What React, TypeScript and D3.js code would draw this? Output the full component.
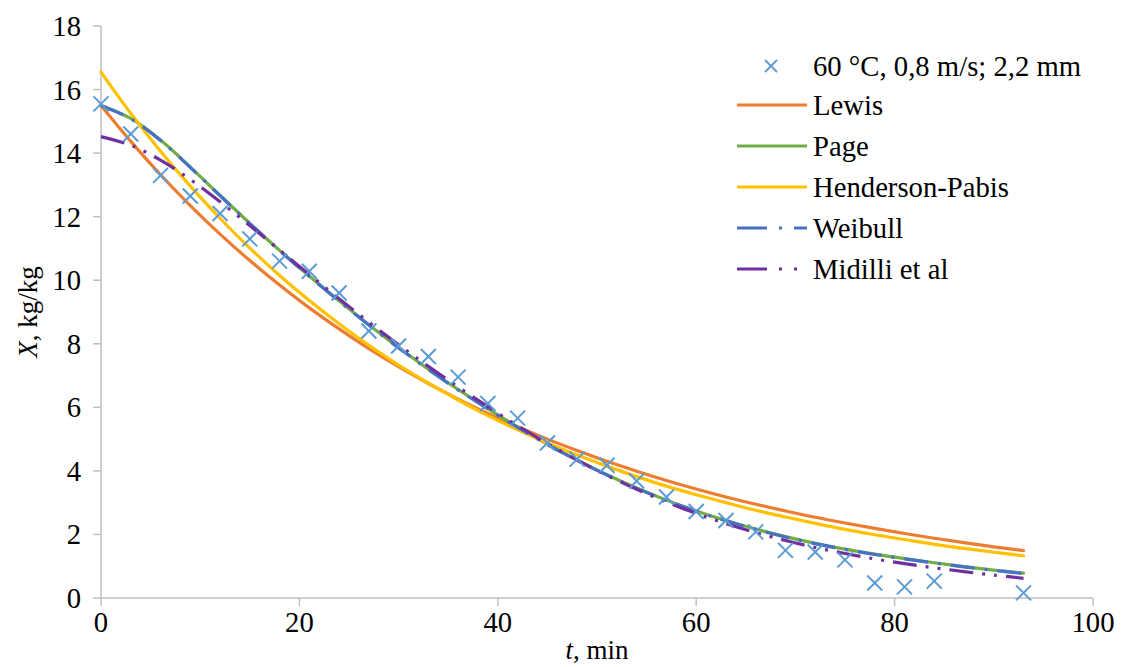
import React from "react";
import * as d3 from "d3";

const timeObs = [0, 3, 6, 9, 12, 15, 18, 21, 24, 27, 30, 33, 36, 39, 42, 45, 48, 51, 54, 57, 60, 63, 66, 69, 72, 75, 78, 81, 84, 93];
const moistObs = [15.55, 14.6, 13.3, 12.65, 12.1, 11.3, 10.6, 10.28, 9.6, 8.4, 7.93, 7.6, 6.95, 6.12, 5.66, 4.88, 4.37, 4.18, 3.68, 3.18, 2.72, 2.44, 2.08, 1.5, 1.45, 1.2, 0.47, 0.35, 0.53, 0.16];

const timeModel = [0, 3, 6, 9, 12, 15, 18, 21, 24, 27, 30, 33, 36, 39, 42, 45, 48, 51, 54, 57, 60, 63, 66, 69, 72, 75, 78, 81, 84, 87, 90, 93];
const lewis = [15.5, 14.37, 13.32, 12.35, 11.45, 10.62, 9.85, 9.13, 8.47, 7.85, 7.28, 6.75, 6.26, 5.81, 5.39, 5.0, 4.64, 4.3, 3.99, 3.7, 3.43, 3.18, 2.95, 2.74, 2.54, 2.36, 2.19, 2.03, 1.88, 1.74, 1.61, 1.49];
const page = [15.5, 15.09, 14.41, 13.56, 12.67, 11.79, 10.94, 10.13, 9.35, 8.6, 7.88, 7.2, 6.56, 5.96, 5.38, 4.84, 4.34, 3.88, 3.46, 3.08, 2.74, 2.44, 2.17, 1.93, 1.72, 1.54, 1.38, 1.24, 1.11, 0.99, 0.88, 0.78];
const hendersonPabis = [16.55, 15.25, 14.06, 12.96, 11.95, 11.01, 10.15, 9.36, 8.63, 7.95, 7.33, 6.76, 6.23, 5.74, 5.29, 4.88, 4.5, 4.15, 3.82, 3.52, 3.25, 3.0, 2.76, 2.55, 2.35, 2.16, 1.99, 1.84, 1.69, 1.56, 1.44, 1.33];
const weibull = [15.5, 15.08, 14.4, 13.55, 12.66, 11.78, 10.93, 10.12, 9.34, 8.59, 7.87, 7.19, 6.55, 5.95, 5.37, 4.83, 4.33, 3.87, 3.45, 3.07, 2.73, 2.43, 2.16, 1.92, 1.71, 1.53, 1.37, 1.23, 1.1, 0.98, 0.87, 0.77];
const midilli = [14.52, 14.25, 13.78, 13.17, 12.47, 11.72, 10.95, 10.18, 9.42, 8.68, 7.97, 7.29, 6.64, 6.02, 5.42, 4.86, 4.34, 3.86, 3.42, 3.02, 2.66, 2.34, 2.06, 1.81, 1.59, 1.4, 1.23, 1.08, 0.95, 0.83, 0.72, 0.62];

const xTicks = [0, 20, 40, 60, 80, 100];
const yTicks = [0, 2, 4, 6, 8, 10, 12, 14, 16, 18];

const seriesNames = ["Lewis", "Page", "Henderson-Pabis", "Weibull", "Midilli et al"];
const seriesValues = [lewis, page, hendersonPabis, weibull, midilli];
const seriesColors = ["#ED7D31", "#70AD47", "#FFC000", "#4472C4", "#7030A0"];
const seriesDash = ["none", "none", "none", "24 10 3 10", "24 9 3 9 3 9"];
const obsName = "60 °C, 0,8 m/s; 2,2 mm";
const obsColor = "#5B9BD5";

const W = 1123;
const H = 667;
const FONT = "Liberation Serif, Times New Roman, DejaVu Serif, serif";
const FS = 28.7;

export default function App() {
  const x = d3.scaleLinear().domain([0, 100]).range([101, 1093]);
  const y = d3.scaleLinear().domain([0, 18]).range([598, 26]);
  const axisColor = "#BFBFBF";
  const ts: React.CSSProperties = { fontFamily: FONT };

  const line = d3
    .line<number>()
    .x((_, i) => x(timeModel[i]))
    .y((v) => y(v))
    .curve(d3.curveCatmullRom.alpha(0.5));

  const cross = (cx: number, cy: number, r: number, sw: number, key: string) => (
    <g key={key} stroke={obsColor} strokeWidth={sw}>
      <line x1={cx - r} y1={cy - r} x2={cx + r} y2={cy + r} />
      <line x1={cx - r} y1={cy + r} x2={cx + r} y2={cy - r} />
    </g>
  );

  const legX1 = 737;
  const legX2 = 807;
  const legText = 813;
  const legRows = [66, 105, 146, 187, 228, 269];

  return (
    <svg
      width={W}
      height={H}
      style={{ position: "absolute", left: 0, top: 0, background: "#fff", fontFamily: FONT }}
    >
      <rect x={0} y={0} width={W} height={H} fill="#fff" />
      {/* axes */}
      <line x1={x(0)} y1={y(0)} x2={x(100)} y2={y(0)} stroke={axisColor} strokeWidth={1.5} />
      <line x1={x(0)} y1={y(0)} x2={x(0)} y2={y(18)} stroke={axisColor} strokeWidth={1.5} />
      {xTicks.map((t) => (
        <g key={"xt" + t}>
          <line x1={x(t)} y1={y(0)} x2={x(t)} y2={y(0) + 8} stroke={axisColor} strokeWidth={1.5} />
          <text x={x(t)} y={y(0) + 34} textAnchor="middle" fontSize={FS} fill="#000" style={ts}>
            {t}
          </text>
        </g>
      ))}
      {yTicks.map((t) => (
        <g key={"yt" + t}>
          <line x1={x(0) - 8} y1={y(t)} x2={x(0)} y2={y(t)} stroke={axisColor} strokeWidth={1.5} />
          <text x={x(0) - 20} y={y(t) + 10} textAnchor="end" fontSize={FS} fill="#000" style={ts}>
            {t}
          </text>
        </g>
      ))}
      {/* axis titles */}
      <text
        transform={`translate(37, ${(y(0) + y(18)) / 2}) rotate(-90)`}
        textAnchor="middle"
        fontSize={27}
        fill="#000"
        style={ts}
      >
        <tspan fontStyle="italic">X</tspan>, kg/kg
      </text>
      <text x={(x(0) + x(100)) / 2} y={659} textAnchor="middle" fontSize={27} fill="#000" style={ts}>
        <tspan fontStyle="italic">t</tspan>, min
      </text>

      {/* model lines */}
      {seriesValues.map((vals, i) => (
        <path
          key={seriesNames[i]}
          d={line(vals) || ""}
          fill="none"
          stroke={seriesColors[i]}
          strokeWidth={3.2}
          strokeDasharray={seriesDash[i]}
          strokeLinecap={seriesDash[i] === "none" ? "round" : "butt"}
          strokeLinejoin="round"
        />
      ))}

      {/* observations */}
      {timeObs.map((t, i) => cross(x(t), y(moistObs[i]), 7.5, 2, "o" + i))}

      {/* legend */}
      {cross((legX1 + legX2) / 2 - 1, legRows[0], 6, 1.8, "leg0")}
      <text x={legText} y={legRows[0] + 10} fontSize={FS} fill="#000" style={ts}>
        {obsName}
      </text>
      {seriesNames.map((n, i) => (
        <g key={"leg" + n}>
          <line
            x1={legX1}
            y1={legRows[i + 1]}
            x2={legX2}
            y2={legRows[i + 1]}
            stroke={seriesColors[i]}
            strokeWidth={3.2}
            strokeDasharray={seriesDash[i] === "none" ? undefined : i === 3 ? "30 12 3 12" : "30 12 3 12 3 12"}
          />
          <text x={legText} y={legRows[i + 1] + 10} fontSize={FS} fill="#000" style={ts}>
            {n}
          </text>
        </g>
      ))}
    </svg>
  );
}
